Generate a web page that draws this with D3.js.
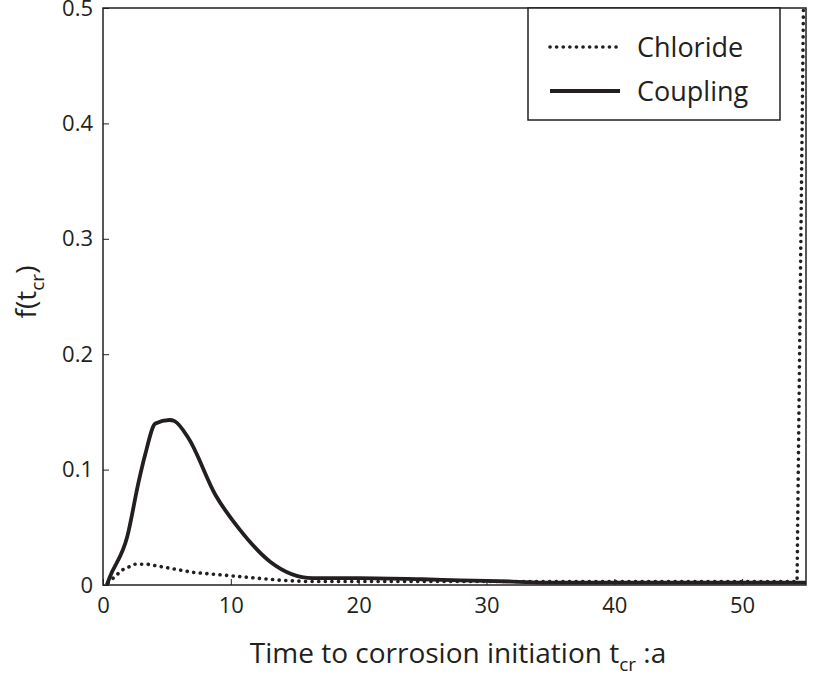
<!DOCTYPE html><html><head><meta charset="utf-8"><script src="https://cdn.jsdelivr.net/npm/d3@7"></script>
<style>body{margin:0;background:#fff}text{font-family:"Open Sans","DejaVu Sans",sans-serif;fill:#231f20}</style></head><body><svg id="c" width="813" height="675"></svg><script>
const xTicks=[0,10,20,30,40,50];
const yTicks=[0,0.1,0.2,0.3,0.4,0.5];
const couplingX=[0.3,0.5,1.9,2.8,3.3,4.1,5.2,5.6,6.7,8.8,10.7,13.1,16.4,20,25,28,32,35,40,45,50,54,55];
const couplingY=[0,0.006,0.042,0.09,0.113,0.14,0.143,0.142,0.127,0.078,0.048,0.02,0.006,0.006,0.005,0.004,0.003,0.002,0.002,0.002,0.002,0.002,0.002];
const chlorideX=[0.4,1.5,2.5,3.5,5,7,10,12,14,16,20,30,40,50,54.3,54.9];
const chlorideY=[0.002,0.013,0.018,0.018,0.015,0.011,0.008,0.006,0.004,0.003,0.003,0.003,0.003,0.003,0.003,0.6];
const svg=d3.select("#c");
const L=103,R=806,T=8,B=585;
const x=d3.scaleLinear().domain([0,55]).range([L,R]);
const y=d3.scaleLinear().domain([0,0.5]).range([B,T]);
svg.append("clipPath").attr("id","cp").append("rect").attr("x",L).attr("y",T).attr("width",R-L).attr("height",B-T);
const g=svg.append("g").attr("clip-path","url(#cp)");
const line=d3.line().x(d=>x(d[0])).y(d=>y(d[1]));
g.append("path").attr("d",line(chlorideX.map((v,i)=>[v,chlorideY[i]]))).attr("fill","none").attr("stroke","#231f20").attr("stroke-width",3.6).attr("stroke-dasharray","0.1 6.5").attr("stroke-linecap","round");
g.append("path").attr("d",line.curve(d3.curveMonotoneX)(couplingX.map((v,i)=>[v,couplingY[i]]))).attr("fill","none").attr("stroke","#231f20").attr("stroke-width",3.8);
svg.append("rect").attr("x",L).attr("y",T).attr("width",R-L).attr("height",B-T).attr("fill","none").attr("stroke","#231f20").attr("stroke-width",1.5);
const xa=svg.append("g").attr("transform",`translate(0,${B})`).call(d3.axisBottom(x).tickValues(xTicks).tickSizeInner(-6).tickSizeOuter(0).tickPadding(12).tickFormat(d3.format("d")));
const ya=svg.append("g").attr("transform",`translate(${L},0)`).call(d3.axisLeft(y).tickValues(yTicks).tickSizeInner(-6).tickSizeOuter(0).tickPadding(10).tickFormat(d=>d===0?"0":d3.format(".1f")(d)));
[xa,ya].forEach(a=>{a.select(".domain").remove();a.selectAll("line").attr("stroke","#231f20");a.selectAll("text").style("font-size","22px").attr("fill","#231f20");});
svg.append("text").attr("x",458).attr("y",663).attr("text-anchor","middle").style("font-size","28px").html('Time to corrosion initiation t<tspan dy="8" font-size="19">cr</tspan><tspan dy="-8"> :a</tspan>');
svg.append("text").attr("transform","translate(36,292) rotate(-90)").attr("text-anchor","middle").style("font-size","28px").html('f(t<tspan dy="8" font-size="19">cr</tspan><tspan dy="-8">)</tspan>');
const lg=svg.append("g");
lg.append("rect").attr("x",528).attr("y",8).attr("width",252).attr("height",112).attr("fill","#fff").attr("stroke","#231f20").attr("stroke-width",1.5);
lg.append("line").attr("x1",550).attr("x2",620).attr("y1",47).attr("y2",47).attr("stroke","#231f20").attr("stroke-width",3.6).attr("stroke-dasharray","0.1 6.5").attr("stroke-linecap","round");
lg.append("line").attr("x1",550).attr("x2",620).attr("y1",91).attr("y2",91).attr("stroke","#231f20").attr("stroke-width",3.8);
lg.append("text").attr("x",637).attr("y",57).style("font-size","27px").text("Chloride");
lg.append("text").attr("x",637).attr("y",101).style("font-size","27px").text("Coupling");
</script></body></html>
